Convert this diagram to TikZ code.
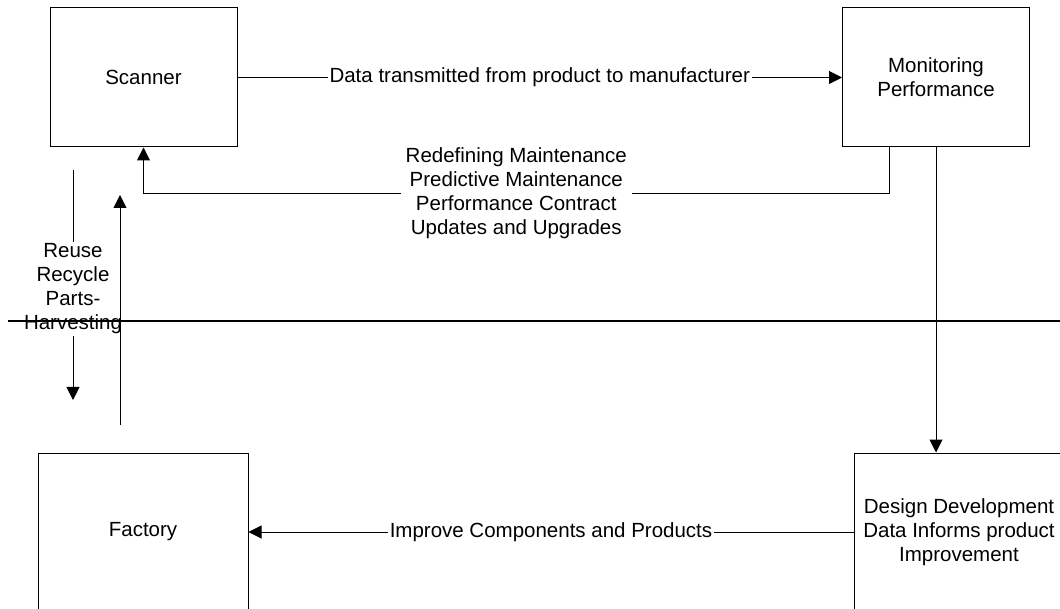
\documentclass[tikz,border=0pt]{standalone}
\usepackage{fontspec}
\setmainfont{Liberation Sans}
\usetikzlibrary{arrows.meta, positioning}

\begin{document}
\begin{tikzpicture}[x=1pt, y=-1pt,
    box/.style={draw, line width=1pt, minimum width=187pt, minimum height=139pt, inner sep=0pt, align=center, font=\fontsize{20.5}{24}\selectfont},
    bigbox/.style={box, minimum width=210pt, minimum height=158pt},
    flow/.style={line width=1pt, -{Triangle[length=13pt, width=13pt]}},
    lbl/.style={fill=white, inner xsep=2pt, inner ysep=2pt, align=center, font=\fontsize{20.5}{24}\selectfont}]
    \useasboundingbox (0,0) rectangle (1060,609);

    % the four stations
    \node[box] (scanner) at (143.5,77.5) {Scanner};
    \node[box] (monitor) at (936,77.5) {Monitoring\\Performance};
    \node[bigbox] (design) at (959,532) {Design Development\\Data Informs product\\Improvement};
    \node[bigbox] (factory) at (143,532) {Factory};

    % loose ends of the return loop on the left
    \coordinate (reuse top) at (73,170);
    \coordinate (reuse bot) at (73,400);
    \coordinate (back bot) at (120,425);
    \coordinate (back top) at (120,195);
    \coordinate (split west) at (8,321);
    \coordinate (split east) at (1060,321);

    \draw[flow] (scanner) -- node[lbl] {Data transmitted from product to manufacturer} (monitor);
    \draw[flow] ([xshift=-47pt]monitor.south) -- ++(0,46) -| node[lbl, inner xsep=5pt, pos=0.25] {Redefining Maintenance\\Predictive Maintenance\\Performance Contract\\Updates and Upgrades} (scanner.south);
    \draw[flow] (monitor.south) -- (monitor.south |- design.north);
    \draw[flow] (design) -- node[lbl] {Improve Components and Products} (factory);
    \draw[flow] (reuse top) -- node[lbl, yshift=-4pt] {Reuse\\Recycle\\Parts-\\Harvesting} (reuse bot);
    \draw[flow] (back bot) -- (back top);

    % dividing line
    \draw[line width=1.8pt] (split west) -- (split east);
\end{tikzpicture}
\end{document}
